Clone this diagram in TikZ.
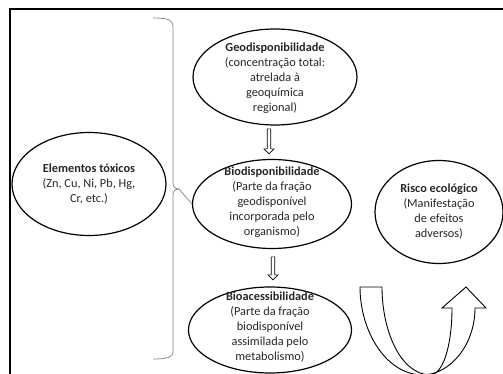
\documentclass[tikz,border=0pt]{standalone}
\usepackage{fontspec}
\setmainfont{Carlito}
\usetikzlibrary{shapes.geometric,shapes.arrows}
\begin{document}
\begin{tikzpicture}[x=1pt,y=-1pt,
  ell/.style={draw=black,line width=1.2pt,ellipse,inner sep=0pt},
  txt/.style={align=center,font=\fontsize{12.3}{15}\selectfont,text=black!85},
  hollow/.style={draw=black,line width=0.7pt,fill=white,single arrow,rotate=-90,
     minimum width=10pt,single arrow head extend=3pt,single arrow head indent=0pt,inner sep=1.3pt},
  brace/.style={draw=black!45,line width=0.8pt}]
\useasboundingbox (0,0) rectangle (503,374);
% frame
\draw[line width=1.6pt] (10,374) -- (10,9) -- (503,9);
% ellipses
\node[ell,minimum width=154pt,minimum height=103pt] (elem) at (89,184) {};
\node[ell,minimum width=164pt,minimum height=96pt] (geo) at (275,77) {};
\node[ell,minimum width=159pt,minimum height=89pt] (bio) at (272,204) {};
\node[ell,minimum width=163pt,minimum height=86pt] (bac) at (270,330) {};
\node[ell,minimum width=128pt,minimum height=103pt] (risco) at (439,212) {};
% texts
\node[txt] (telem) at (elem) {\textbf{Elementos tóxicos}\\(Zn, Cu, Ni, Pb, Hg,\\Cr, etc.)};
\node[txt] (tgeo) at (275,78) {\textbf{Geodisponibilidade}\\(concentração total:\\atrelada à\\geoquímica\\regional)};
\node[txt] (tbio) at (272,202) {\textbf{Biodisponibilidade}\\(Parte da fração\\geodisponível\\incorporada pelo\\organismo)};
\node[txt] (tbac) at (270,327) {\textbf{Bioacessibilidade}\\(Parte da fração\\biodisponível\\assimilada pelo\\metabolismo)};
\node[txt] (trisco) at (439,212) {\textbf{Risco ecológico}\\(Manifestação\\de efeitos\\adversos)};
% hollow arrows
\node[hollow,minimum height=25pt] (a1) at (269,140.5) {};
\node[hollow,minimum height=23pt] (a2) at (273,267.5) {};
% brace
\coordinate (bt) at (153,18);
\coordinate (bb) at (153,359);
\coordinate (tip) at (bio.west);
\draw[brace] (bt) .. controls (168,18) and (173,20) .. (173,26) -- (173,183)
  .. controls (173,187) and (175,189) .. (179,189) -- (tip);
\draw[brace] (179,189) .. controls (175,189) and (173,191) .. (173,195) -- (173,352)
  .. controls (173,357) and (168,359) .. (bb);
% U-turn arrow
\draw[line width=0.9pt,fill=white,line join=miter]
  (360,287) -- (382,287)
  .. controls (382,330) and (400,374) .. (430,375)
  .. controls (445,374) and (452,340) .. (452,308)
  -- (442,308) -- (466,287) -- (486,308) -- (475,308)
  .. controls (475,345) and (450,375) .. (422,375)
  .. controls (385,374) and (360,330) .. (360,287) -- cycle;
\end{tikzpicture}
\end{document}
